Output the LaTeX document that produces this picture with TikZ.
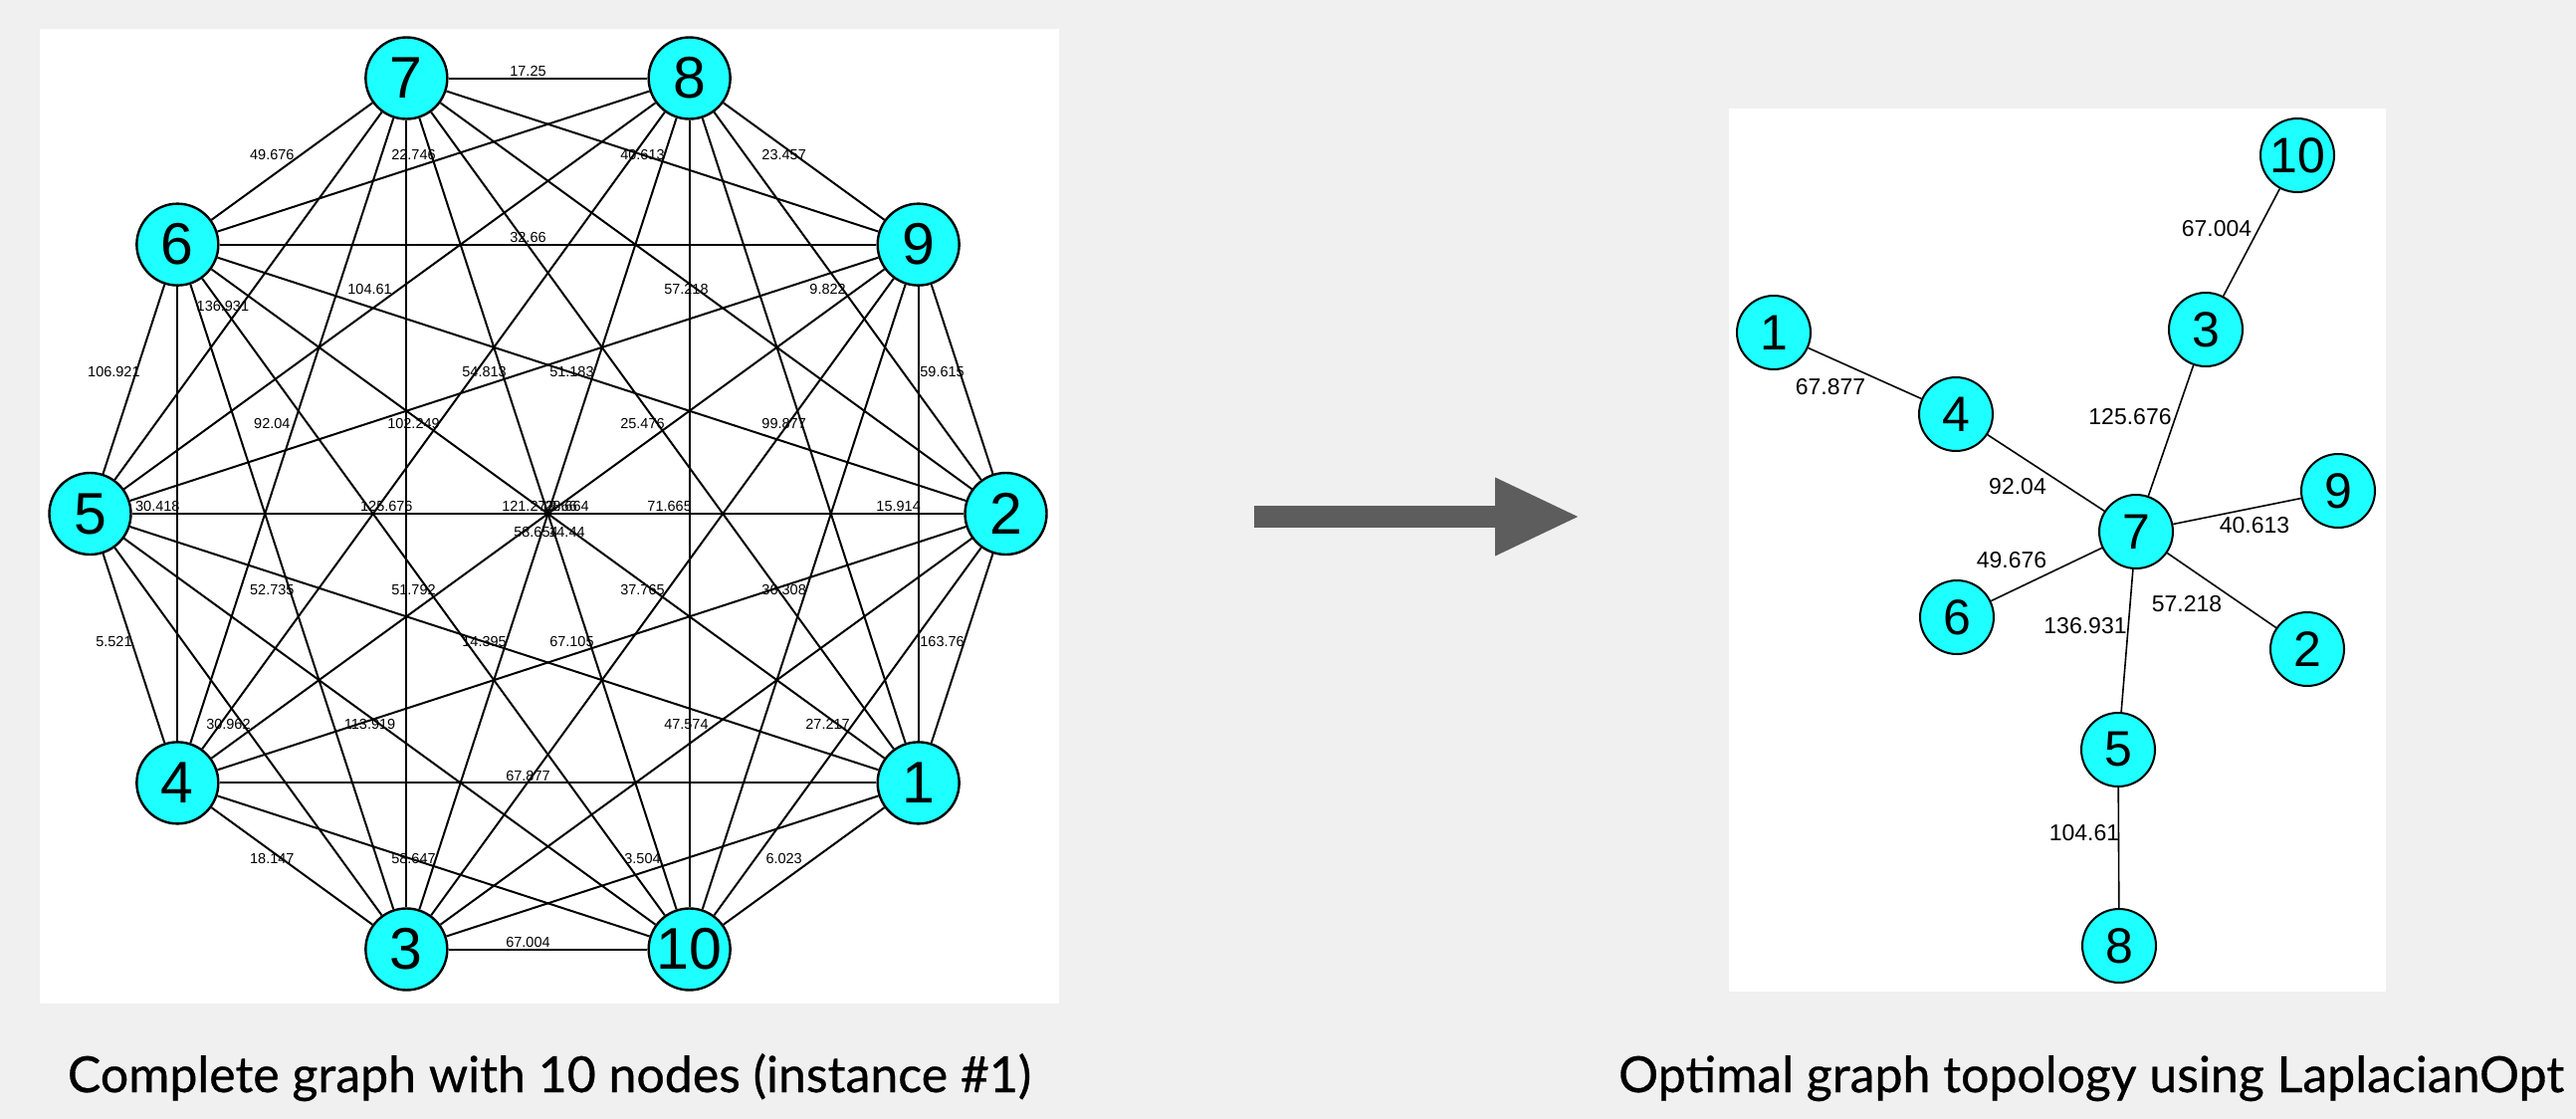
\documentclass[tikz,border=0pt]{standalone}
\usepackage{fontspec}
\setmainfont{Liberation Sans}
\newfontfamily\capfont[FakeBold=0.6]{Lato}
\usepackage{xcolor}
\usepackage{tikz}
\usetikzlibrary{arrows.meta, positioning}
\definecolor{nodecyan}{RGB}{30,255,255}
\definecolor{bggray}{RGB}{240,240,240}
\definecolor{arrowgray}{RGB}{93,93,93}
\tikzstyle{lnode} = [circle, draw=black, line width=2.4pt, fill=nodecyan, minimum size=82pt, inner sep=0pt, font=\fontsize{59}{59}\selectfont]
\tikzstyle{rnode} = [circle, draw=black, line width=2pt, fill=nodecyan, minimum size=74pt, inner sep=0pt, font=\fontsize{50}{50}\selectfont]
\tikzstyle{ledge} = [line width=2pt]
\tikzstyle{redge} = [line width=1.6pt]
\tikzstyle{llbl} = [font=\fontsize{14.5}{14.5}\selectfont, inner sep=0pt, xshift=-20pt, yshift=7pt]
\tikzstyle{rlbl} = [font=\fontsize{23}{23}\selectfont, inner sep=0pt]
\tikzstyle{caption} = [font=\capfont\fontsize{50}{50}\selectfont, inner sep=0pt, anchor=base]

\begin{document}
\begin{tikzpicture}[x=1pt, y=-1pt]
  % background and panels
    \useasboundingbox (0,0) rectangle (2588,1124);
    \fill [bggray] (0,0) rectangle (2588,1124);
    \fill [white] (40,29) rectangle (1064,1008);
    \fill [white] (1737,109) rectangle (2397,996);
  % complete graph
    \foreach \n/\a in {2/0, 9/36, 8/72, 7/108, 6/144, 5/180, 4/216, 3/252, 10/288, 1/324}
      \node (L\n) [lnode] at ({550.5+460*cos(\a)}, {516-460*sin(\a)}) {\n};
    \foreach \u/\v/\w in {7/8/17.25, 6/7/49.676, 6/8/22.746, 7/9/40.613, 8/9/23.457,
        6/9/32.66, 5/8/104.61, 7/2/57.218, 8/2/9.822, 5/6/106.921, 5/9/54.813,
        6/2/51.183, 9/2/59.615, 4/7/92.04, 4/8/102.249, 1/7/25.476, 1/8/99.877,
        4/6/30.418, 3/7/125.676, 8/10/71.665, 1/9/15.914, 6/3/52.735, 6/10/51.792,
        9/3/37.765, 9/10/36.308, 5/4/5.521, 5/1/14.395, 4/2/67.105, 1/2/163.76,
        5/3/30.962, 5/10/113.919, 3/2/47.574, 10/2/27.217, 4/1/67.877, 4/3/18.147,
        4/10/58.647, 3/1/3.504, 10/1/6.023, 3/10/67.004}
      \draw [ledge] (L\u) -- node [llbl] {\w} (L\v);
    \draw [ledge] (L5) -- node [llbl, xshift=-5.5pt, yshift=-17pt] {136.931} (L7);
  % crossing at the centre
    \draw [ledge] (L5) -- node [llbl] {121.273} (L2);
    \draw [ledge] (L6) -- node [llbl, xshift=31pt] {13.66} (L1);
    \draw [ledge] (L7) -- node [llbl, xshift=39pt] {28.664} (L10);
    \draw [ledge] (L8) -- node [llbl, xshift=8pt, yshift=-26pt] {58.654} (L3);
    \draw [ledge] (L9) -- node [llbl, xshift=39pt, yshift=-26pt] {14.44} (L4);
  % arrow
    \coordinate (arrowtail) at (1260,519);
    \coordinate (arrowtip) at (1588,519);
    \draw [arrowgray, line width=21.5pt, -{Triangle[length=86pt, width=72pt]}] (arrowtail) -- (arrowtip);
  % optimal topology
    \node (R10) [rnode] at (2308,156) {10};
    \node (R3) [rnode] at (2216,331) {3};
    \node (R1) [rnode] at (1782,334) {1};
    \node (R4) [rnode] at (1965,416) {4};
    \node (R9) [rnode] at (2349,493) {9};
    \node (R7) [rnode] at (2146,534) {7};
    \node (R6) [rnode] at (1966,620) {6};
    \node (R2) [rnode] at (2318,652) {2};
    \node (R5) [rnode] at (2128,753) {5};
    \node (R8) [rnode] at (2129,950) {8};
    \draw [redge] (R10) -- node [rlbl, xshift=-35pt, yshift=14pt] {67.004} (R3);
    \draw [redge] (R1) -- node [rlbl, xshift=-34.5pt, yshift=-14pt] {67.877} (R4);
    \draw [redge] (R4) -- node [rlbl, xshift=-28.5pt, yshift=-14pt] {92.04} (R7);
    \draw [redge] (R3) -- node [rlbl, xshift=-41pt, yshift=13.5pt] {125.676} (R7);
    \draw [redge] (R9) -- node [rlbl, xshift=17.5pt, yshift=-14.5pt] {40.613} (R7);
    \draw [redge] (R6) -- node [rlbl, xshift=-35pt, yshift=14pt] {49.676} (R7);
    \draw [redge] (R2) -- node [rlbl, xshift=-35pt, yshift=-14pt] {57.218} (R7);
    \draw [redge] (R5) -- node [rlbl, xshift=-42pt, yshift=14.5pt] {136.931} (R7);
    \draw [redge] (R5) -- node [rlbl, xshift=-34.5pt, yshift=14.5pt] {104.61} (R8);
  % captions
    \node (lcaption) [caption] at (552,1097) {Complete graph with 10 nodes (instance \#1)};
    \node (rcaption) [caption] at (2101,1097) {Optimal graph topology using LaplacianOpt};
\end{tikzpicture}
\end{document}
